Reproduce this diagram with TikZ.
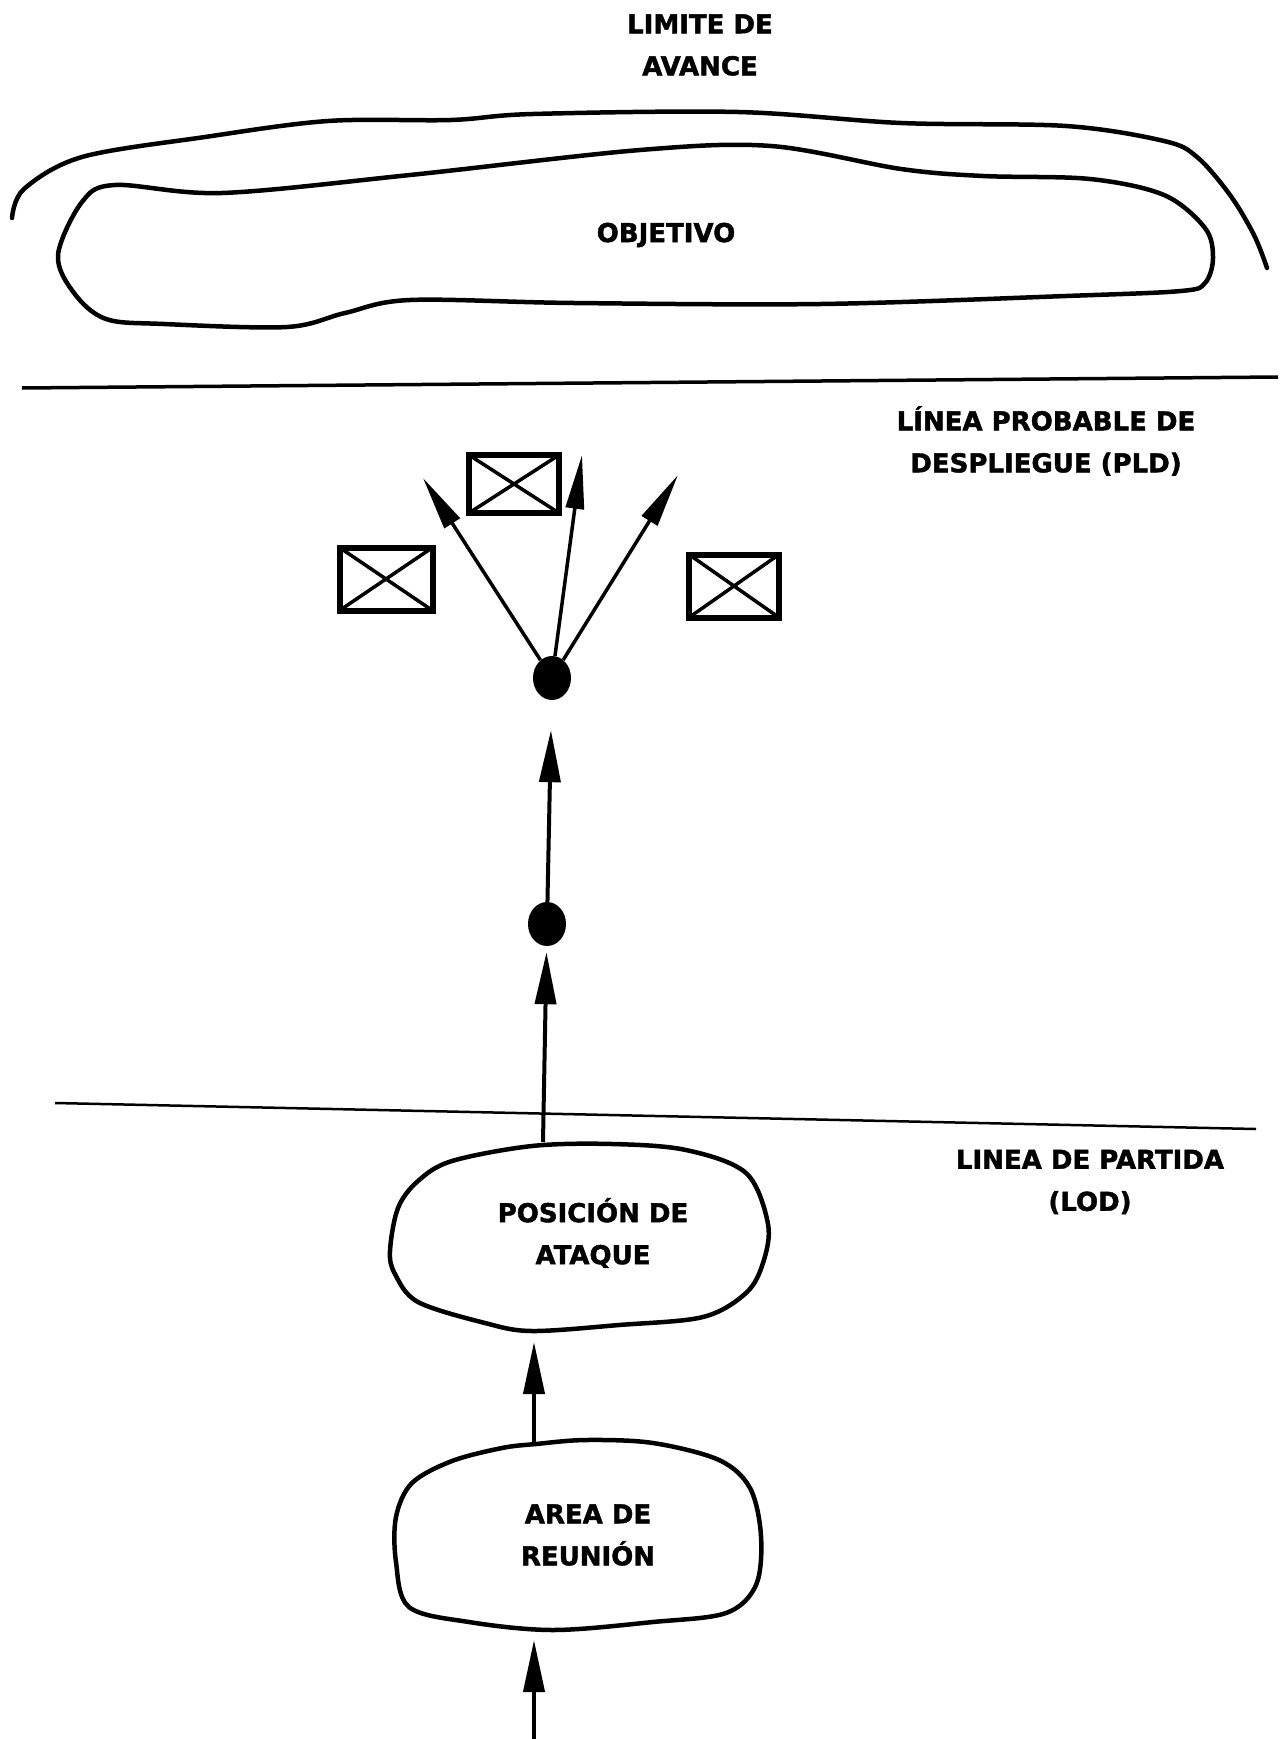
\documentclass[tikz,border=0pt]{standalone}
\usepackage{fontspec}
\setmainfont{DejaVu Sans}[BoldFeatures={FakeBold=1.6}]
\usetikzlibrary{arrows.meta,shapes.geometric}
\begin{document}
\begin{tikzpicture}[x=1pt,y=-1pt,
  lbl/.style={font=\bfseries\fontsize{26}{42}\selectfont, align=center, inner sep=0pt},
  curve/.style={line width=4.5pt, line join=round, line cap=round},
  arr/.style={line width=4pt, -{Triangle[length=52pt,width=21pt]}},
  fan/.style={line width=3.5pt, -{Triangle[length=54pt,width=18pt]}},
  dot/.style={ellipse, fill=black, inner sep=0pt, minimum width=38pt, minimum height=44pt},
  unitbox/.style={draw, line width=6pt, outer sep=0pt, inner sep=0pt}]
\useasboundingbox (0,0) rectangle (1284,1739);

% limit of advance
\draw[curve] plot[smooth, tension=0.55] coordinates {(12,218) (24,189) (82,157) (205,137) (328,121) (451,120) (533,114) (738,112) (901,123) (1066,126) (1164,141) (1197,157) (1230,195) (1254,235) (1267,268)};
\node[lbl] (limite) at (700,45) {LIMITE DE\\AVANCE};

% objective
\draw[curve] plot[smooth cycle, tension=0.55] coordinates {(115,185) (222,193) (410,175) (640,150) (771,146) (901,169) (983,176) (1090,179) (1164,195) (1205,228) (1213,258) (1205,283) (1181,291) (1066,296) (821,304) (574,303) (410,300) (345,313) (287,327) (164,324) (106,319) (74,293) (58,255) (82,202)};
\node[lbl] (objetivo) at (666,235) {OBJETIVO};

% PLD line
\draw[line width=3.5pt] (22,388) -- (1278,377);
\node[lbl] (pld) at (1046,441) {LÍNEA PROBABLE DE\\DESPLIEGUE (PLD)};

% LOD line
\draw[line width=2.5pt] (55,1103) -- (1256,1129);
\node[lbl] (lod) at (1090,1182) {LINEA DE PARTIDA\\(LOD)};

% attack position
\draw[curve] plot[smooth cycle, tension=0.55] coordinates {(532,1146) (612,1144) (686,1150) (746,1173) (768,1224) (763,1263) (746,1293) (703,1317) (619,1325) (532,1331) (485,1323) (418,1302) (395,1274) (390,1251) (398,1208) (418,1181) (452,1161)};
\node[lbl] (posicion) at (593,1233) {POSICIÓN DE\\ATAQUE};
\coordinate (pTop) at (543,1142);
\coordinate (pBot) at (534,1342);

% assembly area
\draw[curve] plot[smooth cycle, tension=0.55] coordinates {(452,1461) (502,1448) (536,1444) (586,1440) (653,1443) (719,1460) (750,1488) (761,1536) (756,1585) (726,1613) (653,1622) (553,1630) (469,1622) (409,1607) (396,1562) (396,1517) (412,1483)};
\node[lbl] (area) at (588,1535) {AREA DE\\REUNIÓN};
\coordinate (aTop) at (534,1444);
\coordinate (aBot) at (534,1640);
\coordinate (start) at (534,1739);

% dots
\node[dot] (d1) at (547,924) {};
\node[dot] (d2) at (552,678) {};

% unit boxes
\node[unitbox, minimum width=90pt, minimum height=58pt] (bT) at (514,484) {};
\node[unitbox, minimum width=93pt, minimum height=63pt] (bL) at (386,579) {};
\node[unitbox, minimum width=90pt, minimum height=63pt] (bR) at (734,586) {};
\foreach \b in {bT,bL,bR}{
  \draw[line width=3.5pt] (\b.north west) -- (\b.south east);
  \draw[line width=3.5pt] (\b.north east) -- (\b.south west);
}

% arrows
\draw[arr] (start) -- (aBot);
\draw[arr] (aTop) -- (pBot);
\draw[arr, shorten >=6pt] (pTop) -- (d1);
\draw[arr, shorten >=30pt] (d1) -- (d2);
\coordinate (tL) at (423,478);
\coordinate (tM) at (582,455);
\coordinate (tR) at (678,475);
\draw[fan] (d2) -- (tL);
\draw[fan] (d2) -- (tM);
\draw[fan] (d2) -- (tR);
\end{tikzpicture}
\end{document}
